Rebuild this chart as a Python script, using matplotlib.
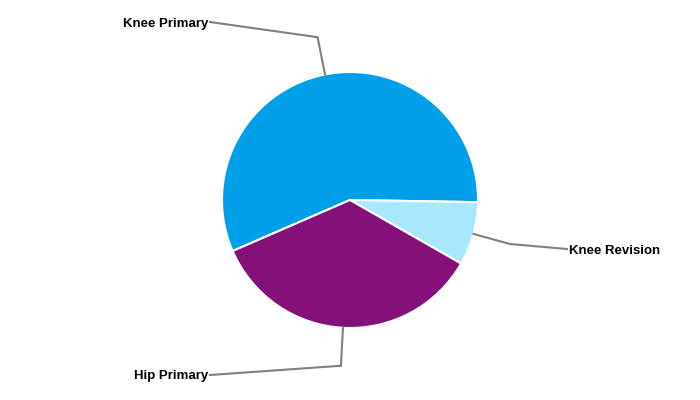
import numpy as np
import matplotlib
matplotlib.use("Agg")
import matplotlib.pyplot as plt

# slice data (percent share)
labels = ["Knee Primary", "Knee Revision", "Hip Primary"]
values = [56.8, 8.0, 35.2]
colors = ["#009FEA", "#A8E7FC", "#841079"]

# label text anchors (pixel coords, y down) and alignment
label_pos = [(208, 22), (569, 249), (208, 375)]
label_ha = ["right", "left", "right"]

W, H = 700, 400
cx, cy, R = 350, 200, 128
start = 203.5

fig = plt.figure(figsize=(7, 4), dpi=100)
ax = fig.add_axes([0, 0, 1, 1])

wedges, _ = ax.pie(values, colors=colors, startangle=start, counterclock=False,
                   center=(cx, H - cy), radius=R,
                   wedgeprops=dict(edgecolor="white", linewidth=1.5))

# pie() resets the limits, so set them afterwards
ax.set_xlim(0, W)
ax.set_ylim(0, H)
ax.set_aspect("equal")
ax.axis("off")

for w, lab, (lx, ly), ha in zip(wedges, labels, label_pos, label_ha):
    mid = np.deg2rad((w.theta1 + w.theta2) / 2)
    x0 = cx + R * np.cos(mid)
    y0 = (H - cy) + R * np.sin(mid)
    x1 = cx + (R + 38) * np.cos(mid)
    y1 = (H - cy) + (R + 38) * np.sin(mid)
    x2 = lx + 2 if ha == "right" else lx - 2
    ax.plot([x0, x1, x2], [y0, y1, H - ly], color="#808080", lw=1.5,
            solid_joinstyle="miter")
    ax.text(lx, H - ly - 1.5, lab, ha=ha, va="center", fontsize=9.5,
            fontweight="bold", family="Liberation Sans", color="black")

fig.savefig("out.png", dpi=100)
